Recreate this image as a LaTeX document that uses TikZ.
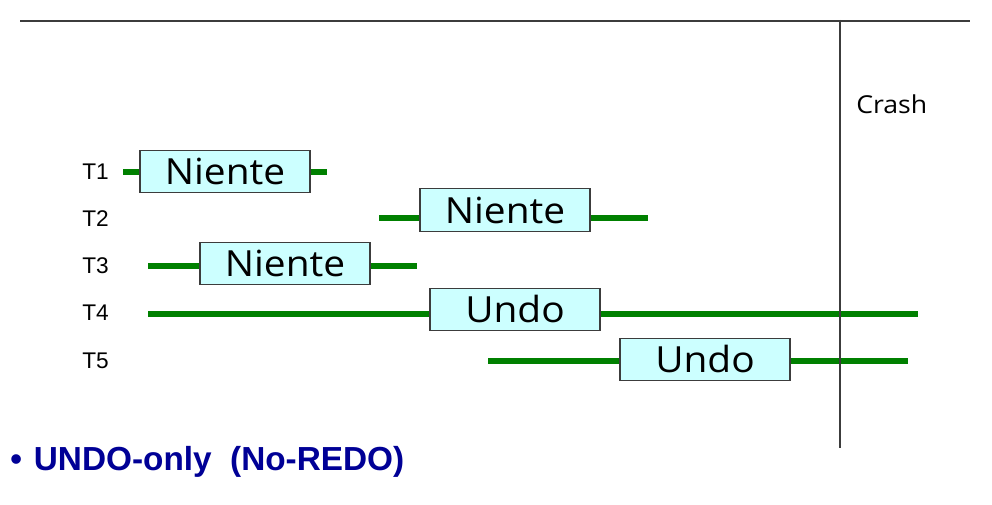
\documentclass[tikz,border=0pt]{standalone}
\usepackage{fontspec}
\setmainfont{Liberation Sans}
\newfontfamily\comic[FakeStretch=1.08]{Open Sans}
\definecolor{tgreen}{RGB}{0,128,0}
\definecolor{boxfill}{RGB}{204,255,255}
\definecolor{navy}{RGB}{0,0,150}
\definecolor{rule}{RGB}{60,60,60}
\tikzset{
  tline/.style={draw=tgreen, line width=3.8pt},
  opbox/.style={draw=rule, fill=boxfill, line width=0.8pt, minimum width=127.5pt, minimum height=32pt, inner sep=0pt, font=\comic\fontsize{27}{27}\selectfont},
  tlabel/.style={anchor=west, inner sep=0pt, font=\fontsize{17}{17}\selectfont}
}
\begin{document}
\begin{tikzpicture}[x=0.75pt,y=-0.75pt]
\useasboundingbox (0,0) rectangle (992,505);
% frame lines
\coordinate (hl) at (20,21);
\coordinate (hr) at (970,21);
\coordinate (vt) at (840,20);
\coordinate (vb) at (840,448);
\draw[rule, line width=1.1pt] (hl) -- (hr);
\node[anchor=west, inner sep=0pt, font=\comic\fontsize{18.5}{18.5}\selectfont] (crash) at (856,104) {Crash};
% labels
\node[tlabel] (l1) at (82,172) {T1};
\node[tlabel] (l2) at (82,219) {T2};
\node[tlabel] (l3) at (82,266) {T3};
\node[tlabel] (l4) at (82,313) {T4};
\node[tlabel] (l5) at (82,361) {T5};
% T1
\coordinate (a1) at (123,172); \coordinate (b1) at (327,172);
\draw[tline] (a1) -- (b1);
\node[opbox] (n1) at (225,171.5) {Niente};
% T2
\coordinate (a2) at (379,218); \coordinate (b2) at (648,218);
\draw[tline] (a2) -- (b2);
\node[opbox] (n2) at (505,210) {Niente};
% T3
\coordinate (a3) at (148,266); \coordinate (b3) at (417,266);
\draw[tline] (a3) -- (b3);
\node[opbox] (n3) at (285,263.5) {Niente};
% T4
\coordinate (a4) at (148,314); \coordinate (b4) at (918,314);
\draw[tline] (a4) -- (b4);
\node[opbox] (n4) at (515,309.5) {Undo};
% T5
\coordinate (a5) at (488,361); \coordinate (b5) at (908,361);
\draw[tline] (a5) -- (b5);
\node[opbox] (n5) at (705,359.5) {Undo};
% crash line on top
\draw[rule, line width=1.1pt] (vt) -- (vb);
% bullet text
\node[anchor=west, inner sep=0pt, text=navy, font=\fontsize{25}{25}\selectfont\bfseries] (bul) at (10,462) {\textbullet\hspace{9pt}UNDO-only\ \ (No-REDO)};
\end{tikzpicture}
\end{document}
